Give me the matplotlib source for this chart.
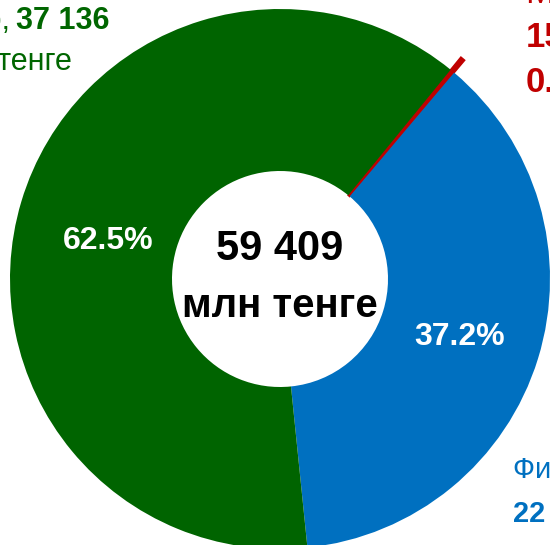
import matplotlib
matplotlib.use('Agg')
import matplotlib.pyplot as plt

plt.rcParams['font.family'] = ['Liberation Sans Narrow', 'Liberation Sans', 'DejaVu Sans']

names = ['Малый бизнес', 'Физические лица', 'Корпоративный сектор']
values = [158, 22115, 37136]
colors = ['#C00000', '#0070C0', '#006400']
total = sum(values)

fig = plt.figure(figsize=(5.5, 5.45), dpi=100)
ax = fig.add_axes([0, 0, 1, 1])

wedges, _ = ax.pie(values, colors=colors, startangle=50.8, counterclock=False,
                   radius=1, wedgeprops=dict(width=0.6, linewidth=0))
# red slice sticks out a bit
wedges[0].set_radius(1.06)
wedges[0].set_width(0.66)
wedges[0].set_edgecolor('#C00000')
wedges[0].set_linewidth(1.2)

ax.set_xlim(-280 / 270, 270 / 270)
ax.set_ylim(-266 / 270, 279 / 270)
ax.set_aspect('equal')
ax.axis('off')

# total in the hole
ax.text(0, 0.07, f'{total:,}'.replace(',', ' '), ha='center', va='baseline',
        fontsize=30, fontweight='bold')
ax.text(0, -0.141, 'млн тенге', ha='center', va='baseline',
        fontsize=29, fontweight='bold')

# percents on the ring
pct = [v / total * 100 for v in values]
ax.text(-0.637, 0.141, f'{pct[2]:.1f}%', ha='center', va='center',
        fontsize=23, fontweight='bold', color='white')
ax.text(0.667, -0.215, f'{pct[1]:.1f}%', ha='center', va='center',
        fontsize=23, fontweight='bold', color='white')

# outside labels
ax.text(-0.63, 0.926, f'{values[2]:,}'.replace(',', ' '), ha='right', va='baseline',
        fontsize=22, fontweight='bold', color='#006600')
ax.text(-1.0, 0.926, names[2] + ',', ha='right', va='baseline',
        fontsize=22, color='#006600')
ax.text(-0.77, 0.774, 'млн тенге', ha='right', va='baseline',
        fontsize=22, color='#006600')

ax.text(0.863, -0.737, names[1], ha='left', va='baseline',
        fontsize=21, color='#0070C0')
ax.text(0.863, -0.9, f'{values[1]:,}'.replace(',', ' '), ha='left', va='baseline',
        fontsize=21, fontweight='bold', color='#0070C0')

ax.text(0.911, 1.022, names[0], ha='left', va='baseline',
        fontsize=25, color='#C00000')
ax.text(0.911, 0.859, str(values[0]), ha='left', va='baseline',
        fontsize=25, fontweight='bold', color='#C00000')
ax.text(0.911, 0.693, f'{pct[0]:.1f}%', ha='left', va='baseline',
        fontsize=25, fontweight='bold', color='#C00000')

fig.savefig('out.png', dpi=100)
